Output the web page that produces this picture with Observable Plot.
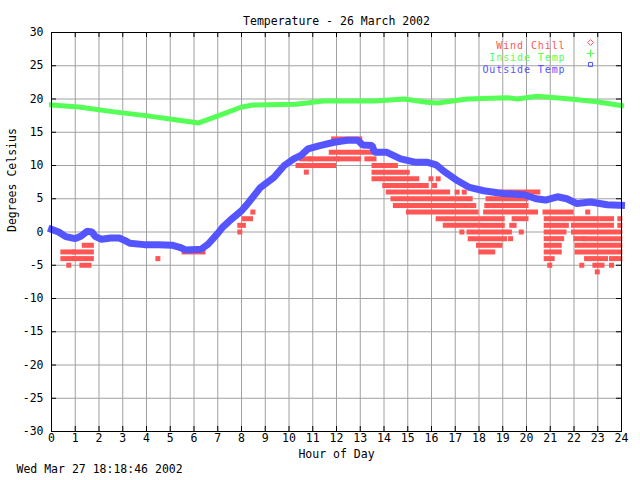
<!DOCTYPE html>
<html>
<head>
<meta charset="utf-8">
<script src="https://cdn.jsdelivr.net/npm/d3@7"></script>
<script src="https://cdn.jsdelivr.net/npm/@observablehq/plot@0.6"></script>
<style>
  html, body { margin: 0; padding: 0; background: #fff; }
  svg { display: block; }
</style>
</head>
<body>
<div id="chart"></div>
<script>
// ---------- DATA ----------
const titleText = "Temperature - 26 March 2002";
const xLabel = "Hour of Day";
const yLabel = "Degrees Celsius";
const stampText = "Wed Mar 27 18:18:46 2002";

const hourTicks = d3.range(0, 25);
const tempTicks = [-30, -25, -20, -15, -10, -5, 0, 5, 10, 15, 20, 25, 30];

const legendLabels = ["Wind Chill", "Inside Temp", "Outside Temp"];
const legendColors = ["#ff5555", "#55ff55", "#5555ff"];
const legendSymbols = ["diamond2", "plus", "square2"];

// Outside temperature (blue)
const outsideHours = [0, 0.3, 0.6, 1.0, 1.25, 1.5, 1.7, 1.85, 2.1, 2.5, 2.85, 3.1, 3.3, 3.9, 4.5, 5.1, 5.4, 5.65, 6.3, 6.6, 7.0, 7.2, 7.6, 8.0, 8.2, 8.8, 9.36, 9.8, 10.2, 10.5, 10.8, 11.3, 11.9, 12.45, 12.9, 13.1, 13.5, 13.6, 14.1, 14.7, 15.3, 15.8, 16.2, 16.5, 17.1, 17.6, 18.2, 19.0, 19.9, 20.4, 20.8, 21.3, 21.7, 22.1, 22.7, 23.4, 24];
const outsideTemps = [0.4, 0.0, -0.7, -1.0, -0.6, 0.1, 0.0, -0.7, -1.1, -0.9, -0.9, -1.3, -1.7, -1.9, -1.9, -2.0, -2.3, -2.7, -2.6, -1.8, -0.2, 0.7, 2.0, 3.2, 4.0, 6.7, 8.2, 10.0, 11.0, 11.5, 12.5, 13.0, 13.5, 13.8, 13.8, 13.1, 13.0, 12.0, 12.0, 11.0, 10.5, 10.5, 10.1, 9.2, 7.7, 6.7, 6.2, 5.8, 5.6, 5.0, 4.8, 5.3, 5.0, 4.3, 4.5, 4.1, 4.0];

// Inside temperature (green)
const insideHours = [0, 1.15, 2.55, 3.96, 5.36, 6.2, 7.04, 8.0, 8.5, 10.3, 11.45, 13.6, 14.85, 15.8, 16.25, 17.5, 19.2, 19.6, 20.45, 21.85, 22.97, 24];
const insideTemps = [19.1, 18.8, 18.1, 17.5, 16.8, 16.4, 17.5, 18.8, 19.1, 19.2, 19.7, 19.7, 20.0, 19.5, 19.4, 20.0, 20.2, 20.0, 20.4, 20.0, 19.6, 19.0];

// Wind chill (red): runs of readings at one whole degree, from hour to hour
const chillTemp = [
  -2, -3, -3, -4, -4, -4, -5, -5, -3,
  1, 0, 2, 3,
  14, 12, 12,
  11, 11, 11, 11,
  10, 10,
  9, 9,
  8, 8, 8,
  7, 7,
  6, 6, 6, 6,
  5, 5,
  4, 4,
  3, 3, 3, 3,
  2, 2, 2, 2, 2, 2, 2,
  1, 1, 1, 1, 1, 1,
  0, 0, 0, 0, 0, 0, 0,
  -1, -1, -1, -1, -1,
  -2, -2, -2,
  -3, -3, -3,
  -4, -4, -4,
  -5, -5, -5, -5,
  -6
];
const chillStart = [
  1.4, 0.5, 1.0, 0.5, 1.0, 4.5, 0.75, 1.3, 5.6,
  7.95, 7.95, 8.15, 8.5,
  11.9, 11.8, 13.2,
  10.55, 10.95, 12.15, 13.3,
  10.4, 13.6,
  10.75, 13.6,
  13.6, 16.0, 16.3,
  14.05, 16.15,
  14.2, 17.1, 17.4, 19.0,
  14.4, 18.4,
  14.5, 18.35,
  15.05, 18.3, 20.8, 22.6,
  16.3, 18.25, 19.5, 20.85, 22.0, 23.2, 23.95,
  16.6, 18.25, 19.4, 20.85, 22.0, 23.95,
  17.3, 17.6, 19.3, 19.8, 20.85, 22.0, 23.95,
  17.65, 19.35, 20.85, 22.1, 22.5,
  18.0, 20.85, 22.15,
  18.1, 20.85, 22.15,
  20.85, 22.55, 23.6,
  21.0, 22.35, 22.9, 23.6,
  23.0
];
const chillEnd = [
  1.7, 0.9, 1.7, 0.9, 1.7, 4.5, 0.75, 1.6, 6.4,
  8.1, 7.95, 8.4, 8.5,
  13.0, 13.0, 13.6,
  10.85, 12.05, 12.95, 13.6,
  11.9, 14.5,
  10.75, 15.0,
  15.4, 16.0, 16.3,
  15.8, 16.15,
  16.7, 17.1, 17.4, 20.5,
  17.65, 20.0,
  17.8, 20.0,
  17.9, 20.4, 21.9, 22.6,
  18.05, 19.0, 20.0, 21.8, 23.0, 23.6, 23.95,
  18.05, 19.0, 19.5, 21.7, 23.6, 23.95,
  17.3, 19.1, 19.3, 19.8, 21.6, 23.75, 23.95,
  19.1, 19.35, 21.5, 22.4, 23.95,
  18.9, 21.4, 23.95,
  18.6, 21.4, 23.95,
  21.1, 23.35, 23.95,
  21.0, 22.35, 23.2, 23.6,
  23.0
];

// ---------- TABLES ----------
const outside = outsideHours.map((h, i) => ({hour: h, temp: outsideTemps[i]}));
const inside = insideHours.map((h, i) => ({hour: h, temp: insideTemps[i]}));
const chill = chillTemp.map((t, i) => ({temp: t, h0: chillStart[i], h1: chillEnd[i]}));

// ---------- STYLE ----------
const FONT = "DejaVu Sans Mono";
const FS = 11.5;
const LFS = 10;
const RED = legendColors[0], GREEN = legendColors[1], BLUE = legendColors[2];
const GRID = "#a0a0a0";
const ML = 51, MR = 19, MT = 32, MB = 49;
const W = 640, H = 480;
const FW = W - ML - MR, FH = H - MT - MB;

const legendMarks = legendLabels.flatMap((lab, i) => [
  Plot.text([lab], {text: d => d, frameAnchor: "top-right", textAnchor: "end",
    dx: -56, dy: 9 + i * 12, fill: legendColors[i], fontFamily: FONT, fontSize: LFS,
    ariaDescription: "legend"}),
  Plot.dot([lab], {frameAnchor: "top-right", dx: -31, dy: 10 + i * 11,
    symbol: legendSymbols[i], stroke: legendColors[i], r: 2.6, strokeWidth: 1})
]);

const chart = Plot.plot({
  width: W,
  height: H,
  marginLeft: ML, marginRight: MR, marginTop: MT, marginBottom: MB,
  style: {fontFamily: FONT, fontSize: FS + "px", background: "#fff"},
  x: {domain: [0, 24], axis: null},
  y: {domain: [-30, 30], axis: null},
  marks: [
    // grid
    Plot.ruleX(hourTicks, {x: d => d, stroke: GRID, strokeWidth: 1}),
    Plot.ruleY(tempTicks, {y: d => d, stroke: GRID, strokeWidth: 1}),
    // inward ticks, mirrored
    Plot.ruleX(hourTicks, {x: d => d, stroke: "#000", insetTop: FH - 5}),
    Plot.ruleX(hourTicks, {x: d => d, stroke: "#000", insetBottom: FH - 5}),
    Plot.ruleY(tempTicks, {y: d => d, stroke: "#000", insetRight: FW - 5}),
    Plot.ruleY(tempTicks, {y: d => d, stroke: "#000", insetLeft: FW - 5}),
    // wind chill
    Plot.ruleY(chill, {y: "temp", x1: "h0", x2: "h1", stroke: RED, strokeWidth: 5, strokeLinecap: "square"}),
    // inside temp
    Plot.line(inside, {x: "hour", y: "temp", stroke: GREEN, strokeWidth: 5, strokeLinejoin: "miter", strokeLinecap: "square"}),
    // outside temp
    Plot.line(outside, {x: "hour", y: "temp", stroke: BLUE, strokeWidth: 7, strokeLinejoin: "miter", strokeLinecap: "square"}),
    // frame
    Plot.frame({stroke: "#000", strokeWidth: 1}),
    // tick labels
    Plot.text(hourTicks, {x: d => d, text: d => String(d), frameAnchor: "bottom", dy: 10, fill: "#000"}),
    Plot.text(tempTicks, {y: d => d, text: d => String(d), frameAnchor: "left", textAnchor: "end", dx: -8, fill: "#000"}),
    // titles
    Plot.text([titleText], {text: d => d, frameAnchor: "top", dy: -16, fill: "#000"}),
    Plot.text([xLabel], {text: d => d, frameAnchor: "bottom", dy: 26, fill: "#000"}),
    Plot.text([yLabel], {text: d => d, frameAnchor: "left", dx: -39, rotate: -90, fill: "#000"}),
    Plot.text([stampText], {text: d => d, frameAnchor: "bottom-left", textAnchor: "start", dx: -35, dy: 41, fill: "#000"}),
    ...legendMarks
  ]
});
document.getElementById("chart").appendChild(chart);
// widen the smaller legend lettering to match the reference's text widths
d3.select(chart).selectAll('g[aria-description="legend"] text').style("letter-spacing", "0.9px");
</script>
</body>
</html>
